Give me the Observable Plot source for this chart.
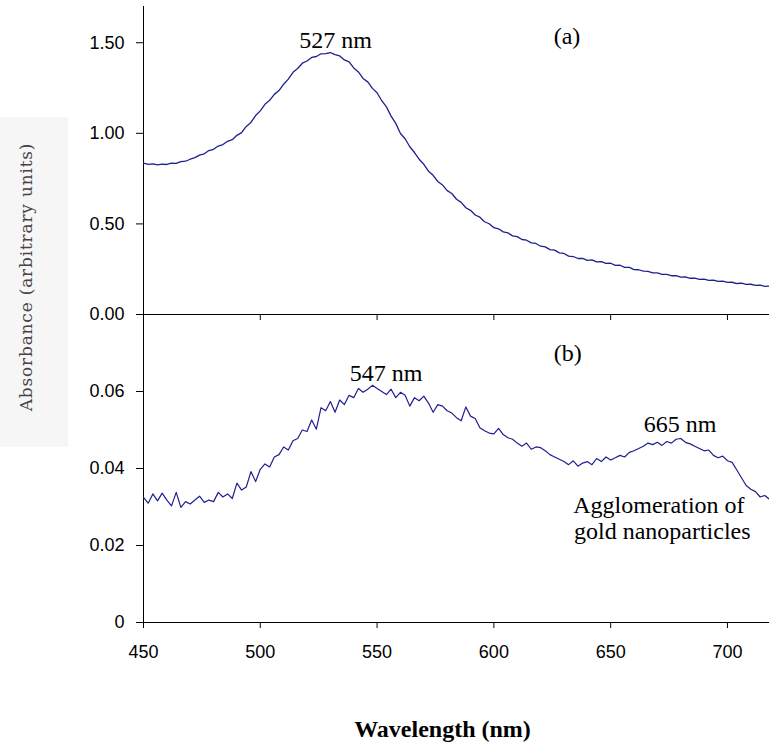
<!DOCTYPE html>
<html>
<head>
<meta charset="utf-8">
<script src="https://cdn.jsdelivr.net/npm/d3@7"></script>
<script src="https://cdn.jsdelivr.net/npm/@observablehq/plot@0.6"></script>
<style>
  body { margin: 0; background: white; }
  #wrap { position: relative; width: 769px; height: 747px; background: white; overflow: hidden; }
  #ybox { position: absolute; left: 0; top: 117px; width: 68px; height: 330px; background: #f6f6f6; }
  #ylabel { position: absolute; left: 26px; top: 160px; transform: translate(-50%, -50%) rotate(-90deg);
            white-space: nowrap; font: 17px "DejaVu Serif", "Liberation Serif", serif; letter-spacing: 0.8px; color: #444; }
</style>
</head>
<body>
<div id="wrap">
  <div id="ybox"><div id="ylabel">Absorbance (arbitrary units)</div></div>
</div>
<script>
// Wavelength grid (nm)
const wavelengths = [
450,452,454,456,458,460,462,464,466,468,470,472,474,476,478,480,482,484,486,488,
490,492,494,496,498,500,502,504,506,508,510,512,514,516,518,520,522,524,526,528,
530,532,534,536,538,540,542,544,546,548,550,552,554,556,558,560,562,564,566,568,
570,572,574,576,578,580,582,584,586,588,590,592,594,596,598,600,602,604,606,608,
610,612,614,616,618,620,622,624,626,628,630,632,634,636,638,640,642,644,646,648,
650,652,654,656,658,660,662,664,666,668,670,672,674,676,678,680,682,684,686,688,
690,692,694,696,698,700,702,704,706,708,710,712,714,716,718];

// Panel (a) absorbance
const absorbanceA = [
0.836,0.829,0.831,0.826,0.830,0.828,0.835,0.834,0.844,0.846,0.857,0.866,0.880,0.887,0.905,0.912,0.930,0.938,0.956,0.965,
0.989,1.004,1.038,1.060,1.098,1.124,1.160,1.182,1.215,1.236,1.271,1.299,1.337,1.358,1.387,1.399,1.419,1.424,1.439,1.440,
1.446,1.434,1.427,1.405,1.394,1.361,1.339,1.303,1.284,1.248,1.224,1.180,1.146,1.095,1.055,0.999,0.970,0.926,0.894,0.857,
0.829,0.791,0.768,0.734,0.715,0.684,0.668,0.636,0.619,0.589,0.575,0.549,0.537,0.512,0.501,0.479,0.473,0.456,0.451,0.434,
0.430,0.414,0.410,0.395,0.392,0.377,0.373,0.358,0.355,0.340,0.337,0.322,0.320,0.309,0.310,0.299,0.301,0.290,0.292,0.282,
0.283,0.271,0.272,0.260,0.260,0.248,0.247,0.239,0.238,0.230,0.230,0.222,0.222,0.214,0.214,0.206,0.207,0.200,0.201,0.194,
0.195,0.188,0.190,0.183,0.184,0.177,0.178,0.171,0.173,0.166,0.167,0.161,0.162,0.155,0.157];

// Panel (b) absorbance
const absorbanceB = [
0.0325,0.0310,0.0334,0.0316,0.0336,0.0318,0.0303,0.0338,0.0299,0.0314,0.0308,0.0318,0.0328,0.0312,0.0318,0.0314,0.0338,0.0326,0.0334,0.0322,
0.0362,0.0344,0.0352,0.0392,0.0366,0.0398,0.0412,0.0404,0.0430,0.0436,0.0456,0.0448,0.0472,0.0478,0.0500,0.0496,0.0526,0.0502,0.0558,0.0550,
0.0574,0.0546,0.0578,0.0566,0.0590,0.0584,0.0608,0.0598,0.0606,0.0616,0.0608,0.0600,0.0592,0.0606,0.0584,0.0598,0.0590,0.0562,0.0584,0.0576,
0.0588,0.0570,0.0546,0.0566,0.0562,0.0550,0.0544,0.0532,0.0524,0.0560,0.0536,0.0530,0.0506,0.0498,0.0492,0.0490,0.0504,0.0488,0.0480,0.0476,
0.0466,0.0458,0.0466,0.0450,0.0456,0.0454,0.0446,0.0436,0.0430,0.0424,0.0418,0.0410,0.0420,0.0406,0.0414,0.0418,0.0410,0.0426,0.0418,0.0430,
0.0422,0.0428,0.0434,0.0430,0.0442,0.0446,0.0452,0.0458,0.0466,0.0462,0.0468,0.0460,0.0470,0.0466,0.0476,0.0478,0.0468,0.0464,0.0458,0.0452,
0.0446,0.0448,0.0434,0.0428,0.0432,0.0420,0.0416,0.0396,0.0376,0.0356,0.0346,0.0340,0.0326,0.0330,0.0320];

// Axis ticks
const xTicks = [450, 500, 550, 600, 650, 700];
const yTicksA = [0, 0.5, 1.0, 1.5];
const yTicksB = [0, 0.02, 0.04, 0.06];

// Annotations (data coordinates)
const notesA = [
  {x: 532.2, y: 1.512, text: "527 nm", anchor: "middle"},
  {x: 631.3, y: 1.535, text: "(a)", anchor: "middle"}
];
const notesB = [
  {x: 631.6, y: 0.0700, text: "(b)", anchor: "middle"},
  {x: 553.9, y: 0.0647, text: "547 nm", anchor: "middle"},
  {x: 679.7, y: 0.0514, text: "665 nm", anchor: "middle"},
  {x: 634.0, y: 0.0304, text: "Agglomeration of", anchor: "start"},
  {x: 634.3, y: 0.0238, text: "gold nanoparticles", anchor: "start"}
];
const xLabel = "Wavelength (nm)";

const dataA = wavelengths.map((w, i) => ({w, a: absorbanceA[i]}));
const dataB = wavelengths.map((w, i) => ({w, a: absorbanceB[i]}));

const lineColor = "#1f1f8f";
const baseStyle = {position: "absolute", left: "0px", top: "0px", background: "none", overflow: "visible",
  fontFamily: "'Liberation Sans', Arial, sans-serif", fontSize: "18px", color: "black"};
const serif = "'Liberation Serif', 'Times New Roman', serif";

const topChart = Plot.plot({
  width: 769, height: 322,
  marginTop: 6, marginBottom: 8, marginLeft: 143, marginRight: 0,
  style: baseStyle,
  x: {domain: [450, 718], ticks: xTicks, tickSize: 6, tickFormat: () => "", label: null},
  y: {domain: [0, 1.7], ticks: yTicksA, tickSize: 7, tickPadding: 12, tickFormat: d => d.toFixed(2), label: null},
  marks: [
    Plot.ruleX([450], {stroke: "black"}),
    Plot.ruleY([0], {stroke: "black"}),
    Plot.line(dataA, {x: "w", y: "a", stroke: lineColor, strokeWidth: 1.3}),
    Plot.text(notesA, {x: "x", y: "y", text: "text", textAnchor: "middle", lineAnchor: "middle",
      fontFamily: serif, fontSize: 24, fill: "black"})
  ]
});

const bottomChart = Plot.plot({
  width: 769, height: 747,
  marginTop: 314, marginBottom: 125, marginLeft: 143, marginRight: 0,
  style: baseStyle,
  x: {domain: [450, 718], ticks: xTicks, tickSize: 6, tickPadding: 17, tickFormat: d => String(d), label: null},
  y: {domain: [0, 0.08], ticks: yTicksB, tickSize: 7, tickPadding: 12,
      tickFormat: d => d === 0 ? "0" : d.toFixed(2), label: null},
  marks: [
    Plot.ruleX([450], {stroke: "black"}),
    Plot.ruleY([0], {stroke: "black"}),
    Plot.line(dataB, {x: "w", y: "a", stroke: lineColor, strokeWidth: 1.2}),
    Plot.text(notesB.filter(d => d.anchor === "middle"), {x: "x", y: "y", text: "text", textAnchor: "middle", lineAnchor: "middle",
      fontFamily: serif, fontSize: 24, fill: "black"}),
    Plot.text(notesB.filter(d => d.anchor === "start"), {x: "x", y: "y", text: "text", textAnchor: "start", lineAnchor: "middle",
      fontFamily: serif, fontSize: 24, fill: "black"}),
    Plot.text([xLabel], {frameAnchor: "bottom", text: d => d, dx: -14, dy: 107, lineAnchor: "middle",
      fontFamily: serif, fontSize: 24, fontWeight: "bold", fill: "black"})
  ]
});

const wrap = document.getElementById("wrap");
wrap.appendChild(topChart);
wrap.appendChild(bottomChart);
</script>
</body>
</html>
